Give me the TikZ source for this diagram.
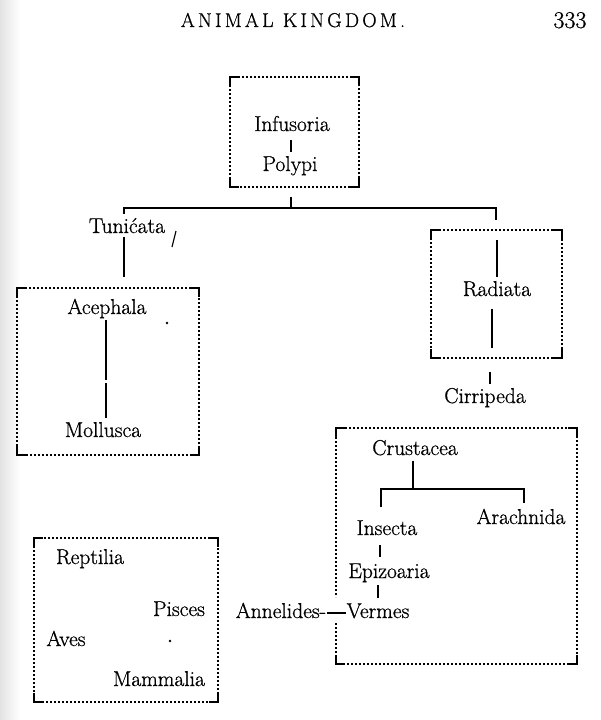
\documentclass[tikz,border=0pt]{standalone}
\usepackage{fontspec}
\setmainfont{Latin Modern Roman}
\usetikzlibrary{calc}
\newcommand\crn[1]{%
 \draw[corner] ([yshift=-9pt]#1.north west) -- (#1.north west) -- ([xshift=9pt]#1.north west);
 \draw[corner] ([xshift=-9pt]#1.north east) -- (#1.north east) -- ([yshift=-9pt]#1.north east);
 \draw[corner] ([yshift=9pt]#1.south west) -- (#1.south west) -- ([xshift=9pt]#1.south west);
 \draw[corner] ([xshift=-9pt]#1.south east) -- (#1.south east) -- ([yshift=9pt]#1.south east);}
\begin{document}
\begin{tikzpicture}[x=1pt,y=-1pt,
 txt/.style={font=\fontsize{21.5}{24}\selectfont\addfontfeature{FakeBold=0.8}, inner sep=2pt, anchor=base},
 conn/.style={line width=1.6pt},
 dotline/.style={line width=2pt, dash pattern=on 2pt off 2pt},
 corner/.style={line width=2pt},
 boxn/.style={draw=none, inner sep=0pt, outer sep=0pt}]
\useasboundingbox (0,0) rectangle (600,720);
\fill[white] (0,0) rectangle (600,720);
\shade[left color=gray!22, right color=white] (0,0) rectangle (20,720);

% header
\node[anchor=base, inner sep=0pt, font=\fontsize{20}{22}\selectfont\addfontfeature{LetterSpace=16,FakeBold=0.7}] (hdr) at (293,27) {ANIMAL KINGDOM.};
\node[anchor=base, inner sep=0pt, font=\fontsize{24}{26}\selectfont\addfontfeature{FakeBold=0.7}] (pg) at (570,28) {333};

% boxes
\node[boxn, minimum width=129pt, minimum height=110pt] (b1) at (294.5,132) {};
\node[boxn, minimum width=182pt, minimum height=167pt] (b2) at (108,371.5) {};
\node[boxn, minimum width=131pt, minimum height=128pt] (b3) at (496.5,294) {};
\node[boxn, minimum width=241pt, minimum height=236pt] (b4) at (456.5,546) {};
\node[boxn, minimum width=184pt, minimum height=164pt] (b5) at (126,620) {};

\foreach \b in {b1,b2,b3,b5}{\draw[dotline] (\b.north west) rectangle (\b.south east);}
\coordinate (g1) at (336,597);
\coordinate (g2) at (336,623);
\draw[dotline] (g2) -- (b4.south west) -- (b4.south east) -- (b4.north east) -- (b4.north west) -- (g1);
\crn{b1}\crn{b2}\crn{b3}\crn{b4}\crn{b5}

% texts
\node[txt] (inf) at (292,131) {Infusoria};
\node[txt] (pol) at (290,171) {Polypi};
\node[txt] (tun) at (127,233) {Tunićata};
\node[txt] (ace) at (107,314) {Acephala};
\node[txt] (mol) at (103,437) {Mollusca};
\node[txt] (rad) at (497,296) {Radiata};
\node[txt] (cir) at (485,403) {Cirripeda};
\node[txt] (cru) at (415,455) {Crustacea};
\node[txt] (ara) at (521,524) {Arachnida};
\node[txt] (ins) at (387,535) {Insecta};
\node[txt] (epi) at (389,578) {Epizoaria};
\node[txt, inner xsep=1pt] (ver) at (378,618) {Vermes};
\node[txt, inner xsep=1pt] (ann) at (281,618) {Annelides-};
\node[txt] (rep) at (90,564) {Reptilia};
\node[txt] (pis) at (179,616) {Pisces};
\node[txt] (ave) at (66,646) {Aves};
\node[txt] (mam) at (159,686) {Mammalia};

% connectors
\coordinate (hub) at (291,208);
\coordinate (brL) at (124,208);
\coordinate (brR) at (496,208);
\draw[conn, shorten <=7pt, shorten >=2pt] (inf.south -| hub) -- (pol.north -| hub);
\draw[conn, shorten <=10pt] (b1.south -| hub) -- (hub);
\draw[conn, shorten <=2pt, shorten >=10pt] (brL |- tun.north) -- (brL) -- (brR) -- (brR |- b3.north);
\draw[conn, shorten <=2pt, shorten >=11pt] (tun.south -| brL) -- (b2.north -| brL);
\draw[conn, shorten >=2pt, dash pattern=on 60pt off 3pt on 60pt off 0pt] (ace.south -| 106,0) -- (mol.north -| 106,0);
\draw[conn, shorten <=10pt, shorten >=2pt] (b3.north -| rad.north) -- (rad.north);
\draw[conn, shorten <=10pt, shorten >=10pt] (rad.south -| 492,0) -- (b3.south -| 492,0);
\draw[conn, shorten <=14pt, shorten >=2pt] (b3.south -| 490,0) -- (cir.north -| 490,0);
\coordinate (bl) at (381,489);
\coordinate (br) at (524,489);
\draw[conn, shorten <=3pt] (cru.south -| 413,0) -- (bl -| 413,0);
\draw[conn, shorten <=11pt, shorten >=4pt] (ins.north -| bl) -- (bl) -- (br) -- (br |- ara.north);
\draw[conn, shorten <=8pt, shorten >=4pt] (ins.south -| 380,0) -- (epi.north -| 380,0);
\draw[conn, shorten <=1pt, shorten >=3pt] (epi.south -| 378,0) -- (ver.north -| 378,0);
\draw[conn] ([yshift=5pt]ann.base east) -- ([yshift=5pt]ver.base west);

% specks
\draw[line width=1.1pt] (172,247) -- (176,231);
\fill (167,323) circle (1.4pt);
\fill (170,641) circle (1.4pt);
\end{tikzpicture}
\end{document}
